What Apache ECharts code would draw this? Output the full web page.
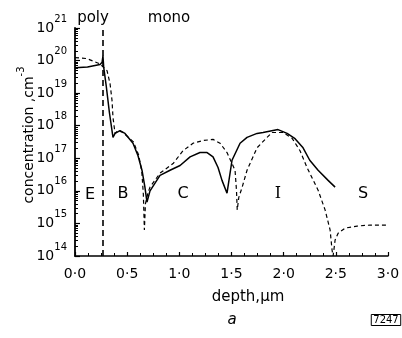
<!DOCTYPE html>
<html>
<head>
<meta charset="utf-8">
<script src="https://cdn.jsdelivr.net/npm/echarts@6.0.0/dist/echarts.min.js"></script>
<style>
  html, body { margin: 0; padding: 0; background: #fff; }
  #chart { width: 402px; height: 338px; }
</style>
</head>
<body>
<div id="chart"></div>
<script>
// measured profile (solid)
const solidDepth = [0, 0.12, 0.24, 0.26, 0.268, 0.275, 0.30, 0.33, 0.364, 0.384,
  0.431, 0.479, 0.556, 0.604, 0.642, 0.67, 0.69, 0.719, 0.815, 0.911,
  1.007, 1.103, 1.198, 1.266, 1.323, 1.371, 1.409, 1.457, 1.505, 1.582,
  1.649, 1.745, 1.802, 1.898, 1.946, 2.033, 2.109, 2.186, 2.25, 2.33,
  2.426, 2.493]
const solidConc = [6.0e19, 6.3e19, 7.6e19, 8.9e19, 1.4e20, 6.3e19, 1.6e19, 2.5e18, 4.4e17, 5.8e17,
  7.1e17, 5.8e17, 2.9e17, 1.2e17, 4.3e16, 1.3e16, 4.5e15, 1.0e16, 3.0e16, 4.3e16,
  6.0e16, 1.1e17, 1.5e17, 1.5e17, 1.1e17, 5.2e16, 2.1e16, 8.5e15, 8.7e16, 2.9e17,
  4.4e17, 5.8e17, 6.2e17, 7.1e17, 7.6e17, 5.8e17, 4.0e17, 2.1e17, 8.7e16, 4.3e16,
  2.1e16, 1.3e16]

// simulated profile (dashed)
const dashDepth = [0, 0.115, 0.24, 0.307, 0.336, 0.355, 0.364, 0.384, 0.412, 0.46,
  0.56, 0.61, 0.64, 0.655, 0.665, 0.675, 0.70, 0.719, 0.815, 0.94,
  1.035, 1.131, 1.227, 1.323, 1.39, 1.457, 1.505, 1.534, 1.548, 1.555,
  1.57, 1.601, 1.649, 1.745, 1.841, 1.889, 1.994, 2.081, 2.157, 2.224,
  2.33, 2.397, 2.445, 2.464, 2.474, 2.493, 2.522, 2.589, 2.704, 2.828,
  2.991]
const dashConc = [1.23e20, 1.15e20, 7.9e19, 4.9e19, 1.95e19, 5.9e18, 1.8e18, 5.8e17, 7.1e17, 6.2e17,
  3.2e17, 1.26e17, 4.0e16, 7.9e15, 6.3e14, 4.0e15, 8.9e15, 1.3e16, 3.5e16, 6.9e16,
  1.7e17, 2.9e17, 3.5e17, 3.8e17, 2.9e17, 1.5e17, 6.9e16, 4.3e16, 1.0e16, 2.6e15,
  6.3e15, 1.26e16, 4.3e16, 2.1e17, 4.4e17, 6.2e17, 6.2e17, 4.1e17, 1.7e17, 5.2e16,
  1.05e16, 2.6e15, 6.3e14, 1.5e14, 1.0e14, 3.1e14, 5.0e14, 7.2e14, 8.3e14, 8.9e14,
  8.9e14]

// poly / mono boundary
const polyDepth = 0.27

const regionLabels = ["E", "B", "C", "I", "S"]

const font = "DejaVu Sans"

var chart = echarts.init(document.getElementById("chart"))

let option = {
  animation: false,
  backgroundColor: "#fff",
  grid: { left: 75, right: 14, top: 28, bottom: 82, containLabel: false, outerBoundsMode: "none" },
  xAxis: {
    type: "value",
    min: 0,
    max: 3,
    interval: 0.5,
    splitLine: { show: false },
    axisLine: { lineStyle: { color: "#000", width: 1.5 } },
    axisTick: { inside: true, length: 4, lineStyle: { color: "#000", width: 1.2 } },
    minorTick: { show: true, splitNumber: 4, length: 3, lineStyle: { color: "#000", width: 1 } },
    axisLabel: {
      color: "#000",
      fontFamily: font,
      fontSize: 14,
      margin: 11,
      formatter: (v) => v.toFixed(1).replace(".", "\u00b7"),
    },
    name: "depth,\u00b5m",
    nameLocation: "middle",
    nameGap: 34,
    nameTextStyle: { color: "#000", fontFamily: font, fontSize: 15, padding: [0, 0, 0, 33] },
  },
  yAxis: {
    type: "log",
    logBase: 10,
    min: 1e14,
    max: 1e21,
    splitLine: { show: false },
    axisLine: { lineStyle: { color: "#000", width: 1.8 } },
    axisTick: { inside: true, length: 5, lineStyle: { color: "#000", width: 1.2 } },
    minorTick: { show: true, splitNumber: 9, length: 3, lineStyle: { color: "#000", width: 1 } },
    axisLabel: {
      margin: 8,
      formatter: (v) => "{b|10}{e|" + Math.round(Math.log10(v)) + "}",
      rich: {
        b: { fontFamily: font, fontSize: 14, color: "#000", lineHeight: 28 },
        e: { fontFamily: font, fontSize: 10, color: "#000", lineHeight: 12, verticalAlign: "top" },
      },
    },
  },
  series: [
    {
      type: "line",
      showSymbol: false,
      data: solidDepth.map((d, i) => [d, solidConc[i]]),
      lineStyle: { color: "#000", width: 1.5 },
      markLine: {
        silent: true,
        symbol: "none",
        label: { show: false },
        lineStyle: { color: "#000", width: 1.6, type: [6, 4] },
        data: [{ xAxis: polyDepth }],
      },
    },
    {
      type: "line",
      showSymbol: false,
      data: dashDepth.map((d, i) => [d, dashConc[i]]),
      lineStyle: { color: "#000", width: 1.2, type: [4, 3] },
    },
  ],
  graphic: [
    { type: "text", x: 93, y: 18, style: { text: "poly", font: "15px " + font, fill: "#000", align: "center", verticalAlign: "middle" } },
    { type: "text", x: 169, y: 18, style: { text: "mono", font: "15px " + font, fill: "#000", align: "center", verticalAlign: "middle" } },
    { type: "text", x: 90, y: 195, style: { text: regionLabels[0], font: "16px " + font, fill: "#000", align: "center", verticalAlign: "middle" } },
    { type: "text", x: 123, y: 194, style: { text: regionLabels[1], font: "16px " + font, fill: "#000", align: "center", verticalAlign: "middle" } },
    { type: "text", x: 183, y: 194, style: { text: regionLabels[2], font: "16px " + font, fill: "#000", align: "center", verticalAlign: "middle" } },
    { type: "text", x: 278, y: 194, style: { text: regionLabels[3], font: "16px 'DejaVu Serif'", fill: "#000", align: "center", verticalAlign: "middle" } },
    { type: "text", x: 363, y: 194, style: { text: regionLabels[4], font: "16px " + font, fill: "#000", align: "center", verticalAlign: "middle" } },
    {
      type: "text", x: 29, y: 135, rotation: Math.PI / 2,
      style: {
        text: "{m|concentration ,cm}{s|-3}",
        align: "center", verticalAlign: "middle",
        rich: {
          m: { fontFamily: font, fontSize: 14, fill: "#000", lineHeight: 26 },
          s: { fontFamily: font, fontSize: 10, fill: "#000", lineHeight: 11, verticalAlign: "top" },
        },
      },
    },
    { type: "text", x: 232, y: 320, style: { text: "a", font: "italic 15px " + font, fill: "#000", align: "center", verticalAlign: "middle" } },
    {
      type: "text", x: 386, y: 320,
      style: {
        text: "7247", font: "10px " + font, fill: "#000", align: "center", verticalAlign: "middle",
        borderColor: "#000", borderWidth: 1, padding: [1, 2, 0, 2],
      },
    },
  ],
}

chart.setOption(option)
</script>
</body>
</html>
